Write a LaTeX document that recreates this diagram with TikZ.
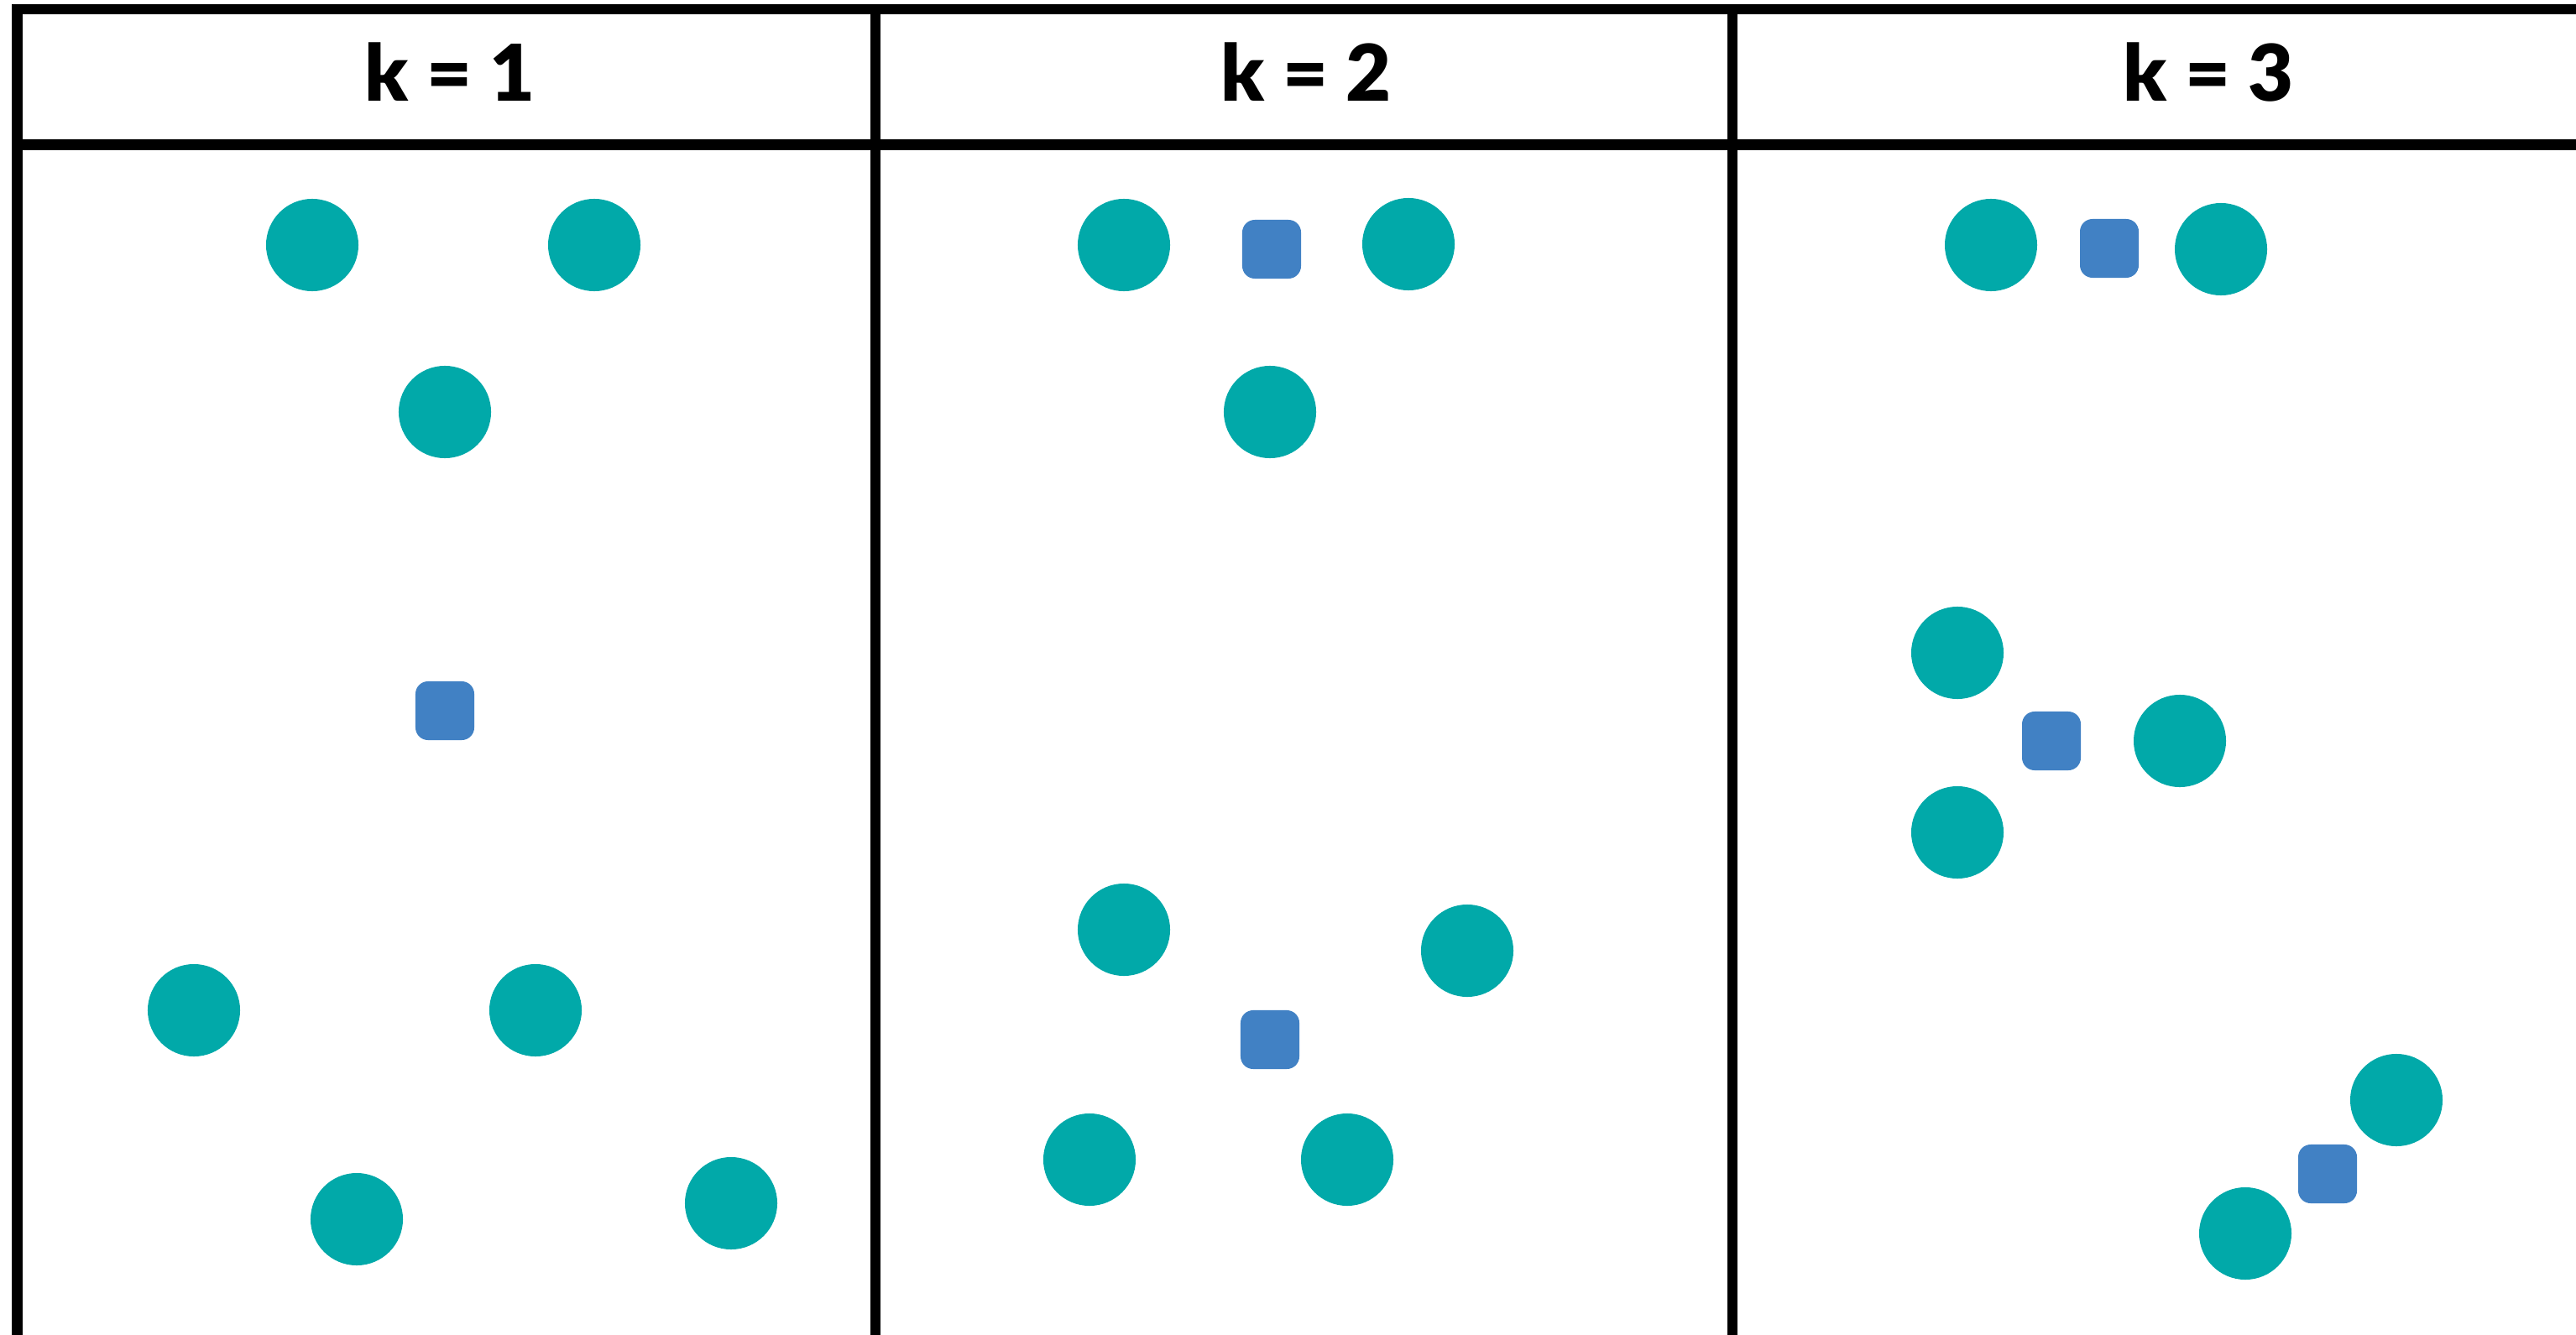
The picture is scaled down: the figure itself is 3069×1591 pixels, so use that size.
\documentclass[tikz,border=0pt]{standalone}
\usepackage{fontspec}
\setmainfont{Lato}
\newfontfamily\headfont{Lato Black}
\definecolor{teal}{HTML}{01A9A9}
\definecolor{blu}{HTML}{4181C4}
\begin{document}
\begin{tikzpicture}[x=0.01cm,y=-0.01cm,
  grid/.style={line width=0.12cm, black},
  pt/.style={circle, fill=teal, inner sep=0pt, minimum size=1.10cm},
  ctr/.style={rectangle, rounded corners=0.15cm, fill=blu, inner sep=0pt, minimum size=0.70cm},
  head/.style={font=\headfont\fontsize{26.5pt}{27pt}\selectfont, anchor=base, inner sep=0pt}]
\useasboundingbox (0,0) rectangle (3069,1591);
% grid
\coordinate (tl) at (14.5,11);
\coordinate (tr) at (3069,11);
\coordinate (hl) at (14.5,172.5);
\coordinate (hr) at (3069,172.5);
\coordinate (v0t) at (20.5,5);
\coordinate (v0b) at (20.5,1591);
\coordinate (v1t) at (1043,5);
\coordinate (v1b) at (1043,1591);
\coordinate (v2t) at (2064,5);
\coordinate (v2b) at (2064,1591);
\draw[grid] (tl) -- (tr);
\draw[grid] (hl) -- (hr);
\draw[grid] (v0t) -- (v0b);
\draw[grid] (v1t) -- (v1b);
\draw[grid] (v2t) -- (v2b);
% headers
\node[head] (h1) at (536,121) {k = 1};
\node[head] (h2) at (1556,121) {k = 2};
\node[head] (h3) at (2631,121) {k = 3};
% panel 1
\node[pt] (a1) at (372,292) {};
\node[pt] (a2) at (708,292) {};
\node[pt] (a3) at (530,491) {};
\node[ctr] (ac) at (530,847) {};
\node[pt] (a4) at (231,1204) {};
\node[pt] (a5) at (638,1204) {};
\node[pt] (a6) at (425,1453) {};
\node[pt] (a7) at (871,1434) {};
% panel 2
\node[pt] (b1) at (1339,292) {};
\node[ctr] (bc1) at (1515,297) {};
\node[pt] (b2) at (1678,291) {};
\node[pt] (b3) at (1513,491) {};
\node[pt] (b4) at (1339,1108) {};
\node[pt] (b5) at (1748,1133) {};
\node[ctr] (bc2) at (1513,1239) {};
\node[pt] (b6) at (1298,1382) {};
\node[pt] (b7) at (1605,1382) {};
% panel 3
\node[pt] (c1) at (2372,292) {};
\node[ctr] (cc1) at (2513,296) {};
\node[pt] (c2) at (2646,297) {};
\node[pt] (c3) at (2332,778) {};
\node[ctr] (cc2) at (2444,883) {};
\node[pt] (c4) at (2597,883) {};
\node[pt] (c5) at (2332,992) {};
\node[pt] (c6) at (2855,1311) {};
\node[ctr] (cc3) at (2773,1399) {};
\node[pt] (c7) at (2675,1470) {};
\end{tikzpicture}
\end{document}
